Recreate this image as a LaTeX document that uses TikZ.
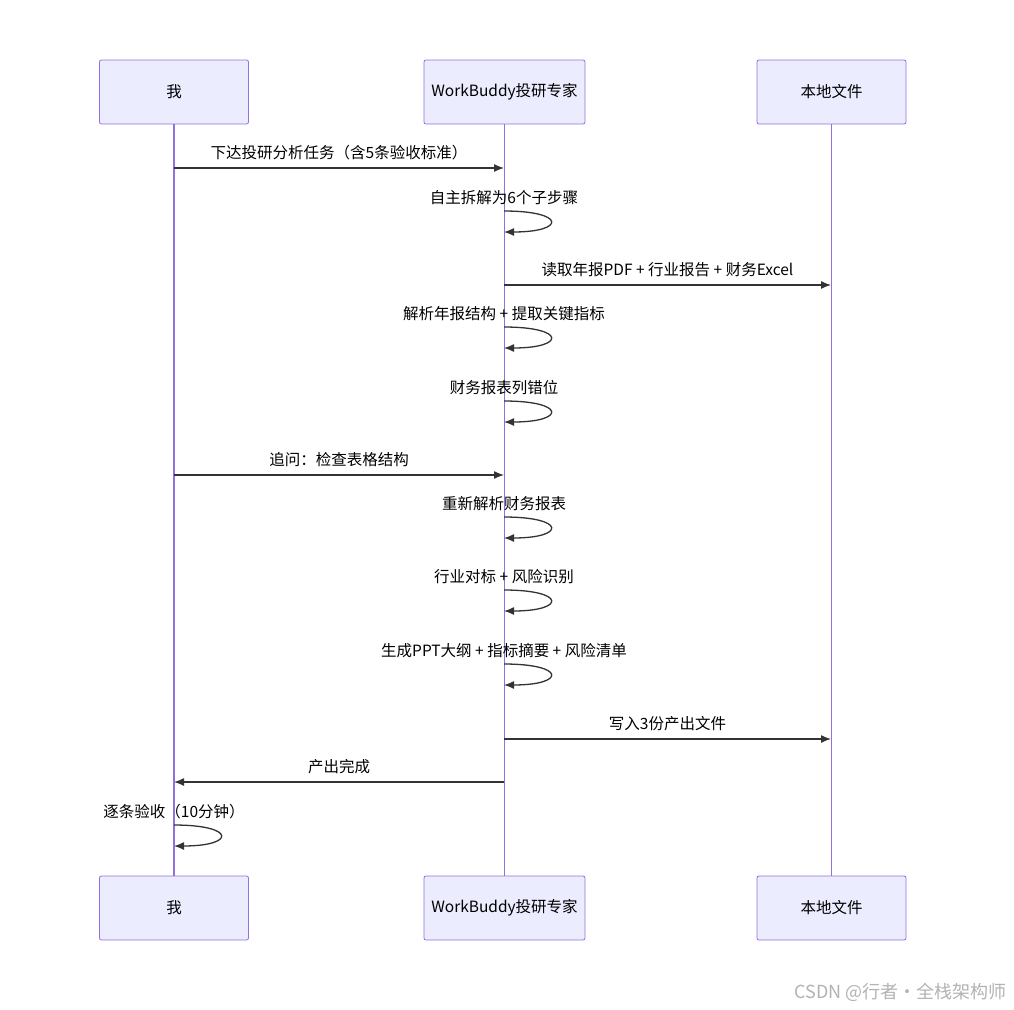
\documentclass[tikz,border=0pt]{standalone}
\usepackage{fontspec}
\setmainfont{Noto Sans CJK SC}
\usetikzlibrary{arrows.meta,positioning,calc}
\definecolor{boxfill}{HTML}{ECECFF}
\definecolor{boxline}{HTML}{9370DB}
\definecolor{msgline}{HTML}{333333}
\tikzset{
  actor/.style={draw=boxline, fill=boxfill, rounded corners=2pt, minimum width=149pt, minimum height=64pt, font=\fontsize{15.5}{18}\selectfont, line width=0.8pt},
  life/.style={draw=boxline, line width=1.6pt},
  msg/.style={draw=msgline, line width=1.3pt, -{Latex[length=10pt,width=8pt]}},
  lbl/.style={font=\fontsize{15.5}{18}\selectfont, text=black, inner sep=0pt}
}
\begin{document}
\begin{tikzpicture}[x=1pt,y=-1pt]
        \useasboundingbox (0,0) rectangle (1014,1009);

        \node[actor] (me) at (174,92) {我};
        \node[actor, minimum width=161pt] (wb) at (504.5,92) {WorkBuddy投研专家};
        \node[actor] (fs) at (831.5,92) {本地文件};
        \node[actor] (me2) at (174,908) {我};
        \node[actor, minimum width=161pt] (wb2) at (504.5,908) {WorkBuddy投研专家};
        \node[actor] (fs2) at (831.5,908) {本地文件};

        \draw[life] (me) -- (me2);
        \draw[life] (wb) -- (wb2);
        \draw[life] (fs) -- (fs2);

        % messages between lifelines
        \foreach \y/\a/\b/\t [count=\i] in {
            168/174/504/{下达投研分析任务（含5条验收标准）},
            285/504/831/{读取年报PDF + 行业报告 + 财务Excel},
            475/174/504/{追问：检查表格结构},
            739/504/831/{写入3份产出文件},
            782/504/174/{产出完成}} {
          \coordinate (s\i) at (\a,\y);
          \coordinate (e\i) at (\b,\y);
          \draw[msg] (s\i) -- (e\i);
          \node[lbl] (t\i) at ($(s\i)!0.5!(e\i)+(0,-15)$) {\t};
        }

        % self messages
        \foreach \x/\y/\t [count=\i] in {
            504/211/{自主拆解为6个子步骤},
            504/327/{解析年报结构 + 提取关键指标},
            504/401/{财务报表列错位},
            504/517/{重新解析财务报表},
            504/590/{行业对标 + 风险识别},
            504/664/{生成PPT大纲 + 指标摘要 + 风险清单},
            174/825/{逐条验收（10分钟）}} {
          \coordinate (ls\i) at (\x,\y);
          \coordinate (le\i) at (\x,\y+21);
          \draw[msg] (ls\i) .. controls ($(ls\i)+(62,0)$) and ($(le\i)+(62,0)$) .. (le\i);
          \node[lbl] (lt\i) at ($(ls\i)+(0,-13)$) {\t};
        }

        \node[font=\fontsize{18}{21}\selectfont, text=gray!60, anchor=east] (mark) at (1010,992) {CSDN @行者·全栈架构师};
\end{tikzpicture}
\end{document}
